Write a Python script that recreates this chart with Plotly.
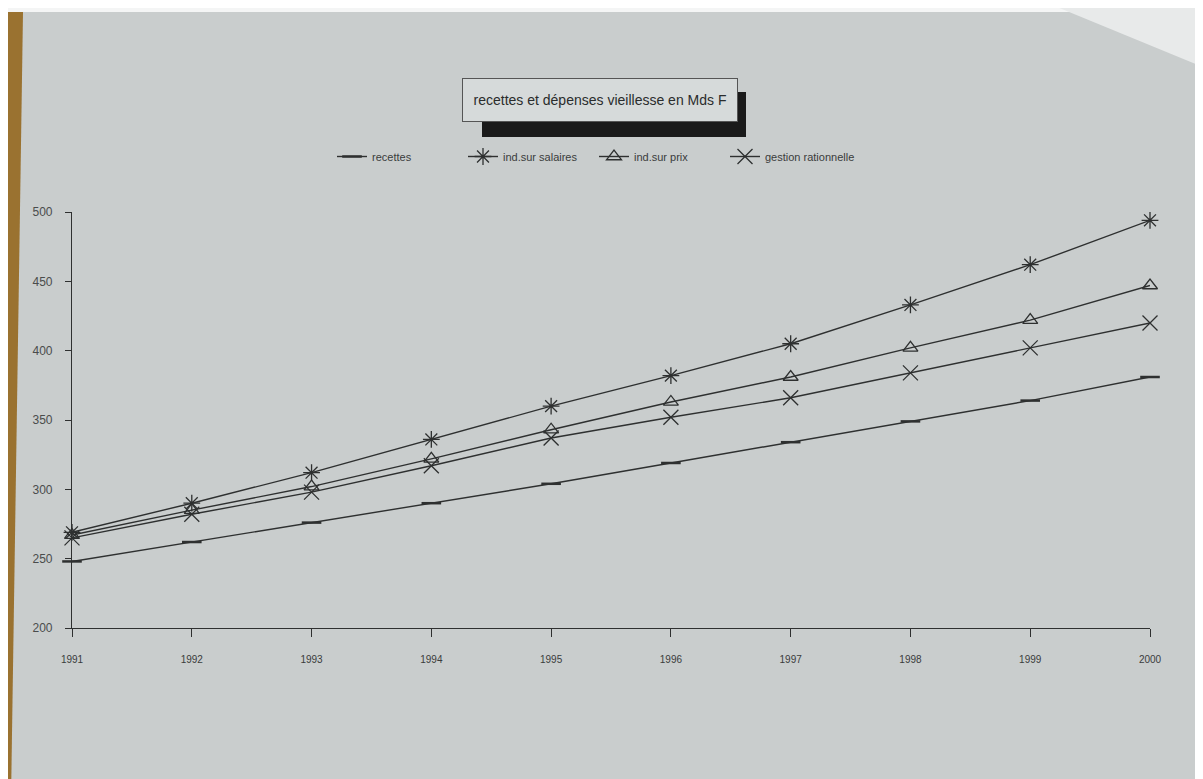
import plotly.graph_objects as go

years = [1991, 1992, 1993, 1994, 1995, 1996, 1997, 1998, 1999, 2000]
recettes = [248, 262, 276, 290, 304, 319, 334, 349, 364, 381]
ind_salaires = [269, 290, 312, 336, 360, 382, 405, 433, 462, 494]
ind_prix = [267, 285, 302, 322, 343, 363, 381, 402, 422, 447]
gestion = [265, 282, 298, 317, 337, 352, 366, 384, 402, 420]
y_ticks = [200, 250, 300, 350, 400, 450, 500]
title_text = "recettes et dépenses vieillesse en Mds F"

OFF = 8  # page body margin
W, H = 1203 - OFF, 779 - OFF
L, R, T, B = 72 - OFF, 1150 - OFF, 212 - OFF, 628 - OFF
pw, ph = R - L, B - T


def px(x):
    return (x - OFF - L) / pw


def py(y):
    return (B - (y - OFF)) / ph


ink = "#2e3030"
bg = "#c9cdcd"
series = [
    ("recettes", recettes, "line-ew-open", 14),
    ("ind.sur salaires", ind_salaires, "asterisk-open", 14),
    ("ind.sur prix", ind_prix, "triangle-up-open", 13),
    ("gestion rationnelle", gestion, "x-thin-open", 15),
]

fig = go.Figure()
for name, vals, sym, size in series:
    fig.add_trace(go.Scatter(
        x=years, y=vals, name=name, mode="lines+markers",
        line=dict(color=ink, width=1.4),
        marker=dict(symbol=sym, size=size, color=ink,
                    line=dict(color=ink, width=1.3 if sym != "line-ew-open" else 2.5)),
    ))

shapes = [
    dict(type="rect", xref="paper", yref="paper", x0=px(-20), x1=px(W + 20), y0=py(12), y1=py(-20),
         fillcolor="#f4f5f5", line=dict(width=0), layer="below"),
    dict(type="path", xref="paper", yref="paper",
         path=f"M {px(-20)} {py(12)} L {px(23)} {py(12)} L {px(11)} {py(800)} L {px(-20)} {py(800)} Z",
         fillcolor="#9a7230", line=dict(width=0), layer="below"),
    dict(type="rect", xref="paper", yref="paper", x0=px(-20), x1=px(7), y0=py(40), y1=py(12),
         fillcolor="#e9ebeb", line=dict(width=0), layer="below"),
    dict(type="path", xref="paper", yref="paper",
         path=f"M {px(1040)} {py(0)} L {px(1210)} {py(0)} L {px(1210)} {py(70)} Z",
         fillcolor="#e8eaea", line=dict(width=0), layer="below"),
    # title shadow
    dict(type="rect", xref="paper", yref="paper", x0=px(482), x1=px(746), y0=py(137), y1=py(92),
         fillcolor="#1a1a1a", line=dict(width=0)),
]

fig.update_layout(
    width=W, height=H,
    margin=dict(l=L, r=W - R, t=T, b=H - B),
    paper_bgcolor=bg, plot_bgcolor=bg,
    font=dict(family="Liberation Sans Narrow, Liberation Sans, Arial", color="#3a3c3c"),
    shapes=shapes,
    showlegend=True,
    legend=dict(orientation="h", x=px(332), y=py(142), xanchor="left", yanchor="top",
                bgcolor="rgba(0,0,0,0)", font=dict(size=11, color="#3a3c3c"),
                entrywidth=86, entrywidthmode="pixels", itemwidth=30),
    annotations=[dict(
        text=title_text, xref="paper", yref="paper", x=px(600), y=py(100),
        xanchor="center", yanchor="middle",
        showarrow=False, font=dict(size=14, color="#2a2c2c"),
        width=258, height=26,
        bgcolor="#d6dada", bordercolor="#555", borderwidth=1, borderpad=8,
    )],
)
fig.update_xaxes(
    range=[1991, 2000], tickvals=years, ticktext=[str(y) for y in years],
    showgrid=False, zeroline=False, showline=True, linecolor=ink, linewidth=1.2,
    ticks="outside", ticklen=8, tickcolor=ink, tickfont=dict(size=10, color="#3a3c3c"),
    ticklabelstandoff=14,
)
fig.update_yaxes(
    range=[200, 500], tickvals=y_ticks,
    showgrid=False, zeroline=False, showline=True, linecolor=ink, linewidth=1.2,
    ticks="outside", ticklen=6, tickcolor=ink, tickfont=dict(size=12, color="#4a4c4c"),
    ticklabelstandoff=10,
)
fig.update_traces(cliponaxis=False)

fig.write_html("out.html")
